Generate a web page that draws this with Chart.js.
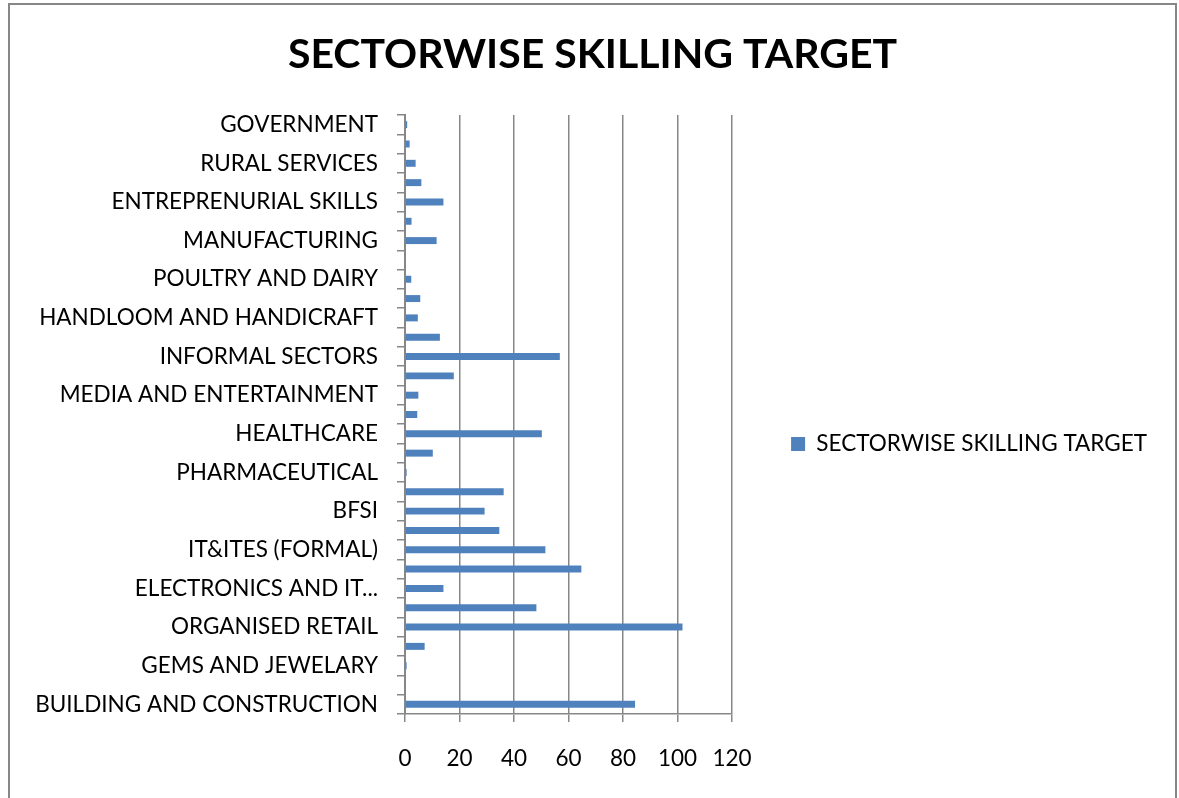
<!DOCTYPE html>
<html>
<head>
<meta charset="utf-8">
<title>Sectorwise Skilling Target</title>
<script src="https://cdn.jsdelivr.net/npm/chart.js@4.4.1/dist/chart.umd.min.js"></script>
<style>
  html, body { margin: 0; padding: 0; background: #fff; overflow: hidden; }
  #frame {
    position: absolute;
    left: 8px;
    top: 3px;
    width: 1165px;
    height: 900px;
    border: 2px solid #878787;
    background: #fff;
  }
  #chart { display: block; }
</style>
</head>
<body>
<div id="frame">
  <canvas id="chart" width="1165" height="878"></canvas>
</div>
<script>
// sectors listed bottom to top, as on the axis
const sectors = [
  'BUILDING AND CONSTRUCTION',
  'REAL ESTATE',
  'GEMS AND JEWELARY',
  'LEATHER',
  'ORGANISED RETAIL',
  'TEXTILE AND CLOTHING',
  'ELECTRONICS AND IT HARDWARE',
  'AUTO AND AUTO COMPONENTS',
  'IT&ITES (FORMAL)',
  'IT&ITES (INFORMAL)',
  'BFSI',
  'EDUCATION AND SKILL DEVELOPMENT',
  'PHARMACEUTICAL',
  'CHEMICALS',
  'HEALTHCARE',
  'TOURISM AND HOSPITALITY',
  'MEDIA AND ENTERTAINMENT',
  'TRANSPORTATION AND LOGISTICS',
  'INFORMAL SECTORS',
  'FOOD PROCESSING',
  'HANDLOOM AND HANDICRAFT',
  'FURNITURE AND FURNISHINGS',
  'POULTRY AND DAIRY',
  'FISHERIES',
  'MANUFACTURING',
  'AGRICULTURE',
  'ENTREPRENURIAL SKILLS',
  'BEAUTY AND WELLNESS',
  'RURAL SERVICES',
  'SECURITY SERVICES',
  'GOVERNMENT',
];

const skillingTarget = [
  84.4, 0.3, 0.6, 7.2, 101.8, 48.2, 14.1, 64.7, 51.5, 34.6,
  29.2, 36.2, 0.6, 10.2, 50.2, 4.5, 4.9, 17.9, 56.8, 12.8,
  4.7, 5.6, 2.3, 0, 11.6, 2.4, 14.1, 6.0, 3.9, 1.7,
  0.8,
];

const xTicks = [0, 20, 40, 60, 80, 100, 120];

const AXIS_GREY = '#878787';
const BAR_BLUE = '#4f81bd';
const FONT = 'Lato';
const TEXT_SIZE = 22.5;

// long names get cut at a word break, like the spreadsheet does
function shortLabel(label) {
  if (label.length <= 26) return label;
  let out = '';
  for (const word of label.split(' ')) {
    const next = out ? out + ' ' + word : word;
    if (next.length > 18) break;
    out = next;
  }
  return out + '...';
}

new Chart(document.getElementById('chart'), {
  type: 'bar',
  data: {
    labels: sectors,
    datasets: [{
      label: 'SECTORWISE SKILLING TARGET',
      data: skillingTarget,
      backgroundColor: BAR_BLUE,
      borderWidth: 0,
      categoryPercentage: 1,
      barPercentage: 0.36,
    }],
  },
  options: {
    indexAxis: 'y',
    responsive: false,
    animation: false,
    layout: { padding: { top: 0, left: 18, right: 18, bottom: 0 } },
    plugins: {
      title: {
        display: true,
        text: 'SECTORWISE SKILLING TARGET',
        color: '#000',
        font: { family: FONT, size: 41, weight: 'bold', lineHeight: 1.2 },
        padding: { top: 25.5, bottom: 35.3 },
      },
      legend: {
        position: 'right',
        maxWidth: 600,
        labels: {
          color: '#000',
          font: { family: FONT, size: TEXT_SIZE },
          boxWidth: 14,
          boxHeight: 14,
          padding: 59,
        },
      },
      tooltip: { enabled: false },
    },
    scales: {
      x: {
        min: 0,
        max: 120,
        afterBuildTicks: (scale) => { scale.ticks = xTicks.map((v) => ({ value: v })); },
        afterFit: (scale) => { scale.height = 169; },
        grid: { color: AXIS_GREY, lineWidth: 1.5, tickLength: 8 },
        border: { color: AXIS_GREY, width: 1.5 },
        ticks: { color: '#000', font: { family: FONT, size: TEXT_SIZE }, padding: 23 },
      },
      y: {
        reverse: true,
        afterFit: (scale) => { scale.width = 377; },
        grid: { drawOnChartArea: false, color: AXIS_GREY, lineWidth: 1.5, tickLength: 8 },
        border: { color: AXIS_GREY, width: 2 },
        ticks: {
          autoSkip: false,
          color: '#000',
          font: { family: FONT, size: TEXT_SIZE },
          padding: 19,
          callback(value, index) {
            return index % 2 ? '' : shortLabel(this.getLabelForValue(value));
          },
        },
      },
    },
  },
});
</script>
</body>
</html>
